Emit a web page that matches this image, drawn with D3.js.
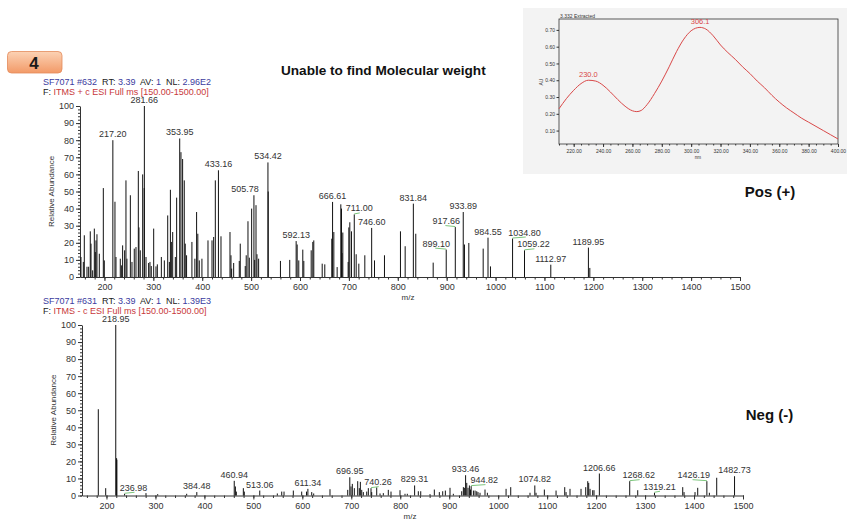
<!DOCTYPE html>
<html>
<head>
<meta charset="utf-8">
<script src="https://cdn.jsdelivr.net/npm/d3@7"></script>
<style>
  body { margin: 0; background: #fff; }
  svg { font-family: Arial, "Liberation Sans", sans-serif; }
  text { white-space: pre; }
</style>
</head>
<body>
<svg id="chart" width="847" height="519"></svg>
<script>
// positive mode spectrum (m/z, relative abundance)
const posMz = [152, 156.8, 158.8, 164.3, 167.7, 171, 172.5, 175.9, 179.3, 181.3,
  182.7, 184.7, 189.5, 197.7, 199.7, 217.2, 221.5, 223.6, 232.4, 235.2,
  237.2, 241.3, 244, 246, 253, 256.3, 261, 264.5, 269.3, 270.6,
  273.3, 278.2, 281.3, 281.66, 285, 290.4, 293.1, 295.8, 300.7, 305.4,
  308.2, 316.4, 322.5, 329.4, 332.8, 334.9, 336.9, 339.6, 345, 347.7,
  353.95, 356.5, 359.9, 363.3, 365.3, 368, 378.9, 385, 388.5, 391,
  394, 399.4, 411.8, 420, 423.4, 426.8, 433.16, 438.4, 456.8, 458.8,
  460.2, 464.3, 475.8, 477.8, 488, 490, 493.6, 496.3, 501.1, 505.78,
  507.3, 510, 512, 515.4, 534.42, 535, 560, 579, 592.13, 594.2,
  597.5, 605.7, 607.8, 622.9, 626.2, 628.2, 645.4, 650.7, 665, 666.61,
  669.2, 676, 683.5, 684.9, 686, 687.6, 698.5, 699.9, 701.9, 705.3,
  711, 714.9, 720.3, 732.6, 746.6, 752.4, 772.8, 805.5, 815.1, 831.84,
  836.8, 872.4, 899.1, 917.66, 933.89, 936.4, 945.3, 974.7, 984.55, 989.6,
  1034.8, 1059.22, 1112.97, 1189.95, 1192.8];
const posAb = [11.7, 8.8, 24.4, 6, 6, 26.7, 19.5, 3.9, 28.3, 14.6,
  21.4, 25, 13.6, 52, 9.7, 80, 44, 11.7, 10.7, 6.8,
  18.5, 15.6, 56.5, 10.7, 47.8, 8.8, 16.6, 17.5, 62, 29,
  15.6, 60, 52, 100, 11.7, 8.2, 8.8, 6.4, 28.3, 6.2,
  7.4, 11.7, 9.7, 36, 8.8, 51, 20.5, 26.3, 11.7, 46.4,
  81, 73, 69, 56.5, 19.5, 12.7, 20.5, 10.7, 38, 25.3,
  9.7, 10.7, 21.4, 21.4, 23.4, 56.5, 62.4, 23.8, 26.3, 12.7,
  4.9, 8.2, 9.4, 19.5, 6.4, 12.7, 32.6, 11.3, 40, 47.8,
  10, 42, 13.3, 10.7, 67, 50, 9.4, 10, 21, 19,
  9.7, 16, 9.4, 15.6, 20.5, 21.4, 7.8, 7.4, 22.4, 43.9,
  26.3, 5.8, 42.5, 40, 14, 26, 8.8, 29, 32, 26.7,
  36.6, 13.3, 7.8, 12.7, 28.7, 9.7, 12.7, 26.7, 18, 42.9,
  25.3, 8.4, 16, 29.2, 38, 19, 19.9, 16.6, 23, 6.2,
  22.5, 15.6, 7.2, 17.2, 5.3];
const posLabels = [217.20, 281.66, 353.95, 433.16, 505.78, 534.42, 592.13, 666.61,
  711.00, 746.60, 831.84, 899.10, 917.66, 933.89, 984.55, 1034.80, 1059.22,
  1112.97, 1189.95];

// negative mode spectrum
const negMz = [183.3, 198.4, 218.95, 220.6, 221.2, 236.98, 280.7, 304.6, 363.8, 384.48,
  460.94, 463.3, 465.2, 479.5, 481.5, 513.06, 548.9, 557.9, 562.6, 581.6,
  598.7, 608.5, 611.34, 619.2, 623.2, 656.5, 692.7, 696.95, 699.4, 702.1,
  706.2, 713.1, 716.4, 718.5, 721.3, 724.6, 731.5, 734.8, 740.26, 741.7,
  751.9, 758.7, 765.4, 775.6, 781.1, 799.5, 809.7, 814.4, 829.31, 836.9,
  841.8, 860.8, 869.6, 879.8, 886.7, 892.1, 901.6, 908.4, 925.5, 928.9,
  930.9, 933.46, 935.8, 938.4, 941.2, 943.5, 944.82, 949.4, 952.8, 956.2,
  958.8, 962.9, 973.1, 977.9, 1016.1, 1025.6, 1065, 1074.82, 1077.3, 1094.3,
  1118.2, 1135.9, 1138.6, 1146.7, 1169.2, 1178.8, 1182.9, 1184.9, 1187.6, 1193,
  1195.7, 1206.66, 1268.62, 1285, 1319.21, 1376.9, 1379.6, 1402, 1407.5, 1426.19,
  1431.3, 1446.3, 1482.73];
const negAb = [50.6, 4.3, 100, 21.9, 21, 1, 1.4, 0.8, 1, 2,
  8.6, 5.3, 2.3, 4.3, 2.3, 2.9, 1.2, 2.3, 2.3, 2.9,
  2.3, 2.3, 3.9, 2, 1.2, 3.7, 3.3, 10.7, 5.3, 6.8,
  4.3, 8.4, 4.3, 8, 3.3, 2, 2.3, 4.3, 4.3, 2,
  4.7, 1.2, 1.4, 3.3, 2.3, 3.1, 1, 1, 5.9, 2.5,
  2.5, 0.8, 3.5, 2, 2.5, 2.9, 4.5, 1, 2.5, 4.9,
  4.5, 11.9, 7.4, 4.5, 5.9, 3.5, 5.5, 2.9, 2.9, 2.5,
  2, 1.6, 3.5, 1.6, 3.9, 4.9, 1.6, 5.9, 1.6, 3.5,
  2.9, 4.9, 2, 3.9, 3.9, 4.9, 8.4, 7.4, 3.9, 3.1,
  3.1, 12.9, 8.4, 3.1, 1.6, 4.9, 2, 2, 4.5, 8.4,
  1.6, 10.4, 11.3];
const negLabels = [218.95, 236.98, 384.48, 460.94, 513.06, 611.34, 696.95, 740.26,
  829.31, 933.46, 944.82, 1074.82, 1206.66, 1268.62, 1319.21, 1426.19, 1482.73];

// UV trace of the inset
const uvNm = [210, 215, 220, 225, 230, 235, 240, 245, 250, 255, 260, 263, 266, 270,
  275, 280, 285, 290, 295, 300, 303, 306, 310, 315, 320, 325, 330, 335, 340,
  345, 350, 355, 360, 365, 370, 375, 380, 385, 390, 395, 400];
const uvAu = [0.23, 0.29, 0.34, 0.38, 0.40, 0.395, 0.37, 0.33, 0.285, 0.245, 0.218, 0.213, 0.22, 0.255,
  0.32, 0.395, 0.48, 0.57, 0.645, 0.695, 0.71, 0.715, 0.705, 0.665, 0.61, 0.565, 0.525, 0.48, 0.44,
  0.395, 0.355, 0.31, 0.27, 0.235, 0.205, 0.175, 0.15, 0.125, 0.1, 0.075, 0.05];
const uvLabels = [230.0, 306.1];

const mzTicks = d3.range(200, 1501, 100);
const mzMinor = d3.range(160, 1501, 20);
const abTicks = d3.range(0, 101, 10);
const abMinor = d3.range(0, 101, 2);
const uvXTicks = d3.range(220, 401, 20);
const uvXMinor = d3.range(210, 401, 5);
const uvYTicks = [0.1, 0.2, 0.3, 0.4, 0.5, 0.6, 0.7];

const posHeader = [["SF7071 #632", "b"], ["  RT: ", "k"], ["3.39", "b"], ["  AV: ", "k"], ["1", "b"], ["  NL: ", "k"], ["2.96E2", "b"]];
const negHeader = [["SF7071 #631", "b"], ["  RT: ", "k"], ["3.39", "b"], ["  AV: ", "k"], ["1", "b"], ["  NL: ", "k"], ["1.39E3", "b"]];
const posScan = [["F: ", "k"], ["ITMS + c ESI Full ms [150.00-1500.00]", "r"]];
const negScan = [["F: ", "k"], ["ITMS - c ESI Full ms [150.00-1500.00]", "r"]];

// label nudges (px) and whether a green leader is drawn
const nudge = {
  "505.78": [-9, false], "711.00": [5, true], "899.10": [-10, true], "917.66": [-9, true],
  "1034.80": [12, true], "1059.22": [9, true],
  "236.98": [9, true], "740.26": [7, true], "944.82": [13, true], "1268.62": [9, true],
  "1319.21": [5, true], "1426.19": [-13, true]
};

const tone = { b: "#3b3b9e", k: "#222", r: "#c8383a" };
const svg = d3.select("#chart");

function header(parts, x, y) {
  const t = svg.append("text").attr("x", x).attr("y", y).attr("font-size", 9);
  parts.forEach(p => t.append("tspan").attr("fill", tone[p[1]]).text(p[0]));
}

function drawSpectrum(cfg) {
  const x = d3.scaleLinear().domain([150, 1500]).range(cfg.xr);
  const y = d3.scaleLinear().domain([0, 100]).range(cfg.yr);
  const g = svg.append("g");

  header(cfg.head, 43, cfg.yr[1] - 21.5);
  header(cfg.scan, 43, cfg.yr[1] - 11.5);

  // y axis
  g.append("g").attr("transform", `translate(${cfg.xr[0]},0)`)
    .call(d3.axisLeft(y).tickValues(abMinor).tickSize(2).tickFormat(""))
    .call(a => a.select(".domain").remove());
  const ya = g.append("g").attr("transform", `translate(${cfg.xr[0]},0)`)
    .call(d3.axisLeft(y).tickValues(abTicks).tickSize(4).tickPadding(2).tickSizeOuter(0));
  ya.attr("font-family", null).attr("font-size", 9);

  // x axis
  g.append("g").attr("transform", `translate(0,${cfg.yr[0]})`)
    .call(d3.axisBottom(x).tickValues(mzMinor).tickSize(2.5).tickFormat(""))
    .call(a => a.select(".domain").remove());
  const xa = g.append("g").attr("transform", `translate(0,${cfg.yr[0]})`)
    .call(d3.axisBottom(x).tickValues(mzTicks).tickSize(4).tickPadding(3).tickSizeOuter(0).tickFormat(d3.format("d")));
  xa.attr("font-family", null).attr("font-size", 9);
  g.selectAll(".tick line, .domain").attr("stroke", "#333");
  g.selectAll(".tick text").attr("fill", "#333");

  g.append("text").attr("x", cfg.xr[0] + 328).attr("y", cfg.yr[0] + 23)
    .attr("font-size", 8).attr("text-anchor", "middle").attr("fill", "#333").text("m/z");
  g.append("text")
    .attr("transform", `translate(${cfg.xr[0] - 26},${(cfg.yr[0] + cfg.yr[1]) / 2}) rotate(-90)`)
    .attr("font-size", 8).attr("text-anchor", "middle").attr("fill", "#333").text("Relative Abundance");

  // sticks
  g.append("g").selectAll("line").data(d3.zip(cfg.mz, cfg.ab)).join("line")
    .attr("x1", d => x(d[0])).attr("x2", d => x(d[0]))
    .attr("y1", y(0)).attr("y2", d => y(d[1]))
    .attr("stroke", "#111").attr("stroke-width", 1);

  // peak labels
  const lab = g.append("g").attr("font-size", 9).attr("fill", "#333").attr("text-anchor", "middle");
  cfg.labels.forEach(v => {
    const i = cfg.mz.findIndex(m => Math.abs(m - v) < 0.001);
    const key = v.toFixed(2);
    const px = x(v), py = y(cfg.ab[i]);
    const n = nudge[key] || [0, false];
    if (n[1]) {
      g.append("line").attr("x1", px).attr("y1", py - 0.5).attr("x2", px + n[0] * 1.1).attr("y2", py - 1.5)
        .attr("stroke", "#5cb85c").attr("stroke-width", 0.8);
    }
    lab.append("text").attr("x", px + n[0]).attr("y", py - 3).text(key);
  });
}

drawSpectrum({ xr: [80, 740], yr: [277, 106], mz: posMz, ab: posAb, labels: posLabels, head: posHeader, scan: posScan });
drawSpectrum({ xr: [82, 743], yr: [495.5, 325], mz: negMz, ab: negAb, labels: negLabels, head: negHeader, scan: negScan });

// badge + titles
const grad = svg.append("defs").append("linearGradient").attr("id", "badge")
  .attr("x1", 0).attr("y1", 0).attr("x2", 0).attr("y2", 1);
grad.append("stop").attr("offset", 0).attr("stop-color", "#fcd2b4");
grad.append("stop").attr("offset", 1).attr("stop-color", "#f29a68");
svg.append("rect").attr("x", 7.5).attr("y", 51.5).attr("width", 54.5).attr("height", 21.5).attr("rx", 4)
  .attr("fill", "url(#badge)").attr("stroke", "#e38a5a").attr("stroke-width", 0.8);
svg.append("text").attr("x", 34).attr("y", 68.5).attr("text-anchor", "middle")
  .attr("font-size", 17).attr("font-weight", "bold").attr("fill", "#1a1a1a").text("4");
svg.append("text").attr("x", 281).attr("y", 74.5).attr("font-size", 13.6).attr("font-weight", "bold")
  .attr("fill", "#111").text("Unable to find Molecular weight");
svg.append("text").attr("x", 770).attr("y", 197).attr("font-size", 15).attr("font-weight", "bold")
  .attr("text-anchor", "middle").attr("fill", "#111").text("Pos (+)");
svg.append("text").attr("x", 769.5).attr("y", 420).attr("font-size", 15).attr("font-weight", "bold")
  .attr("text-anchor", "middle").attr("fill", "#111").text("Neg (-)");

// UV inset
const ux = d3.scaleLinear().domain([210, 400]).range([559, 838]);
const uy = d3.scaleLinear().domain([0.02, 0.765]).range([144, 19]);
const ug = svg.append("g");
ug.append("rect").attr("x", 523).attr("y", 8).attr("width", 324).attr("height", 166).attr("fill", "#f3f3f3");
ug.append("g").attr("transform", "translate(0,144)")
  .call(d3.axisBottom(ux).tickValues(uvXMinor).tickSize(1.5).tickFormat(""))
  .call(a => a.select(".domain").remove());
const uxa = ug.append("g").attr("transform", "translate(0,144)")
  .call(d3.axisBottom(ux).tickValues(uvXTicks).tickSize(3).tickPadding(2).tickSizeOuter(0).tickFormat(d3.format(".2f")));
uxa.attr("font-family", null).attr("font-size", 5);
const uya = ug.append("g").attr("transform", "translate(559,0)")
  .call(d3.axisLeft(uy).tickValues(uvYTicks).tickSize(2.5).tickPadding(1.5).tickSizeOuter(0).tickFormat(d3.format(".2f")));
uya.attr("font-family", null).attr("font-size", 5);
ug.selectAll(".domain").remove();
ug.selectAll(".tick line").attr("stroke", "#333");
ug.selectAll(".tick text").attr("fill", "#333");
ug.append("rect").attr("x", 559).attr("y", 19).attr("width", 279).attr("height", 125)
  .attr("fill", "none").attr("stroke", "#333").attr("stroke-width", 0.8);
ug.append("text").attr("x", 560).attr("y", 17.5).attr("font-size", 5).attr("fill", "#333").text("3.332 Extracted");
ug.append("text").attr("x", 698).attr("y", 159).attr("font-size", 4.5).attr("text-anchor", "middle").attr("fill", "#333").text("nm");
ug.append("text").attr("transform", "translate(543,82) rotate(-90)").attr("font-size", 5)
  .attr("text-anchor", "middle").attr("fill", "#333").text("AU");
ug.append("path").datum(d3.zip(uvNm, uvAu))
  .attr("d", d3.line().x(d => ux(d[0])).y(d => uy(d[1])).curve(d3.curveMonotoneX))
  .attr("fill", "none").attr("stroke", "#d94848").attr("stroke-width", 1);
uvLabels.forEach(v => {
  const i = d3.minIndex(uvNm, n => Math.abs(n - v));
  ug.append("text").attr("x", ux(v)).attr("y", uy(uvAu[i]) - 3.5).attr("font-size", 7.5)
    .attr("text-anchor", "middle").attr("fill", "#d94848").text(v.toFixed(1));
});
</script>
</body>
</html>
